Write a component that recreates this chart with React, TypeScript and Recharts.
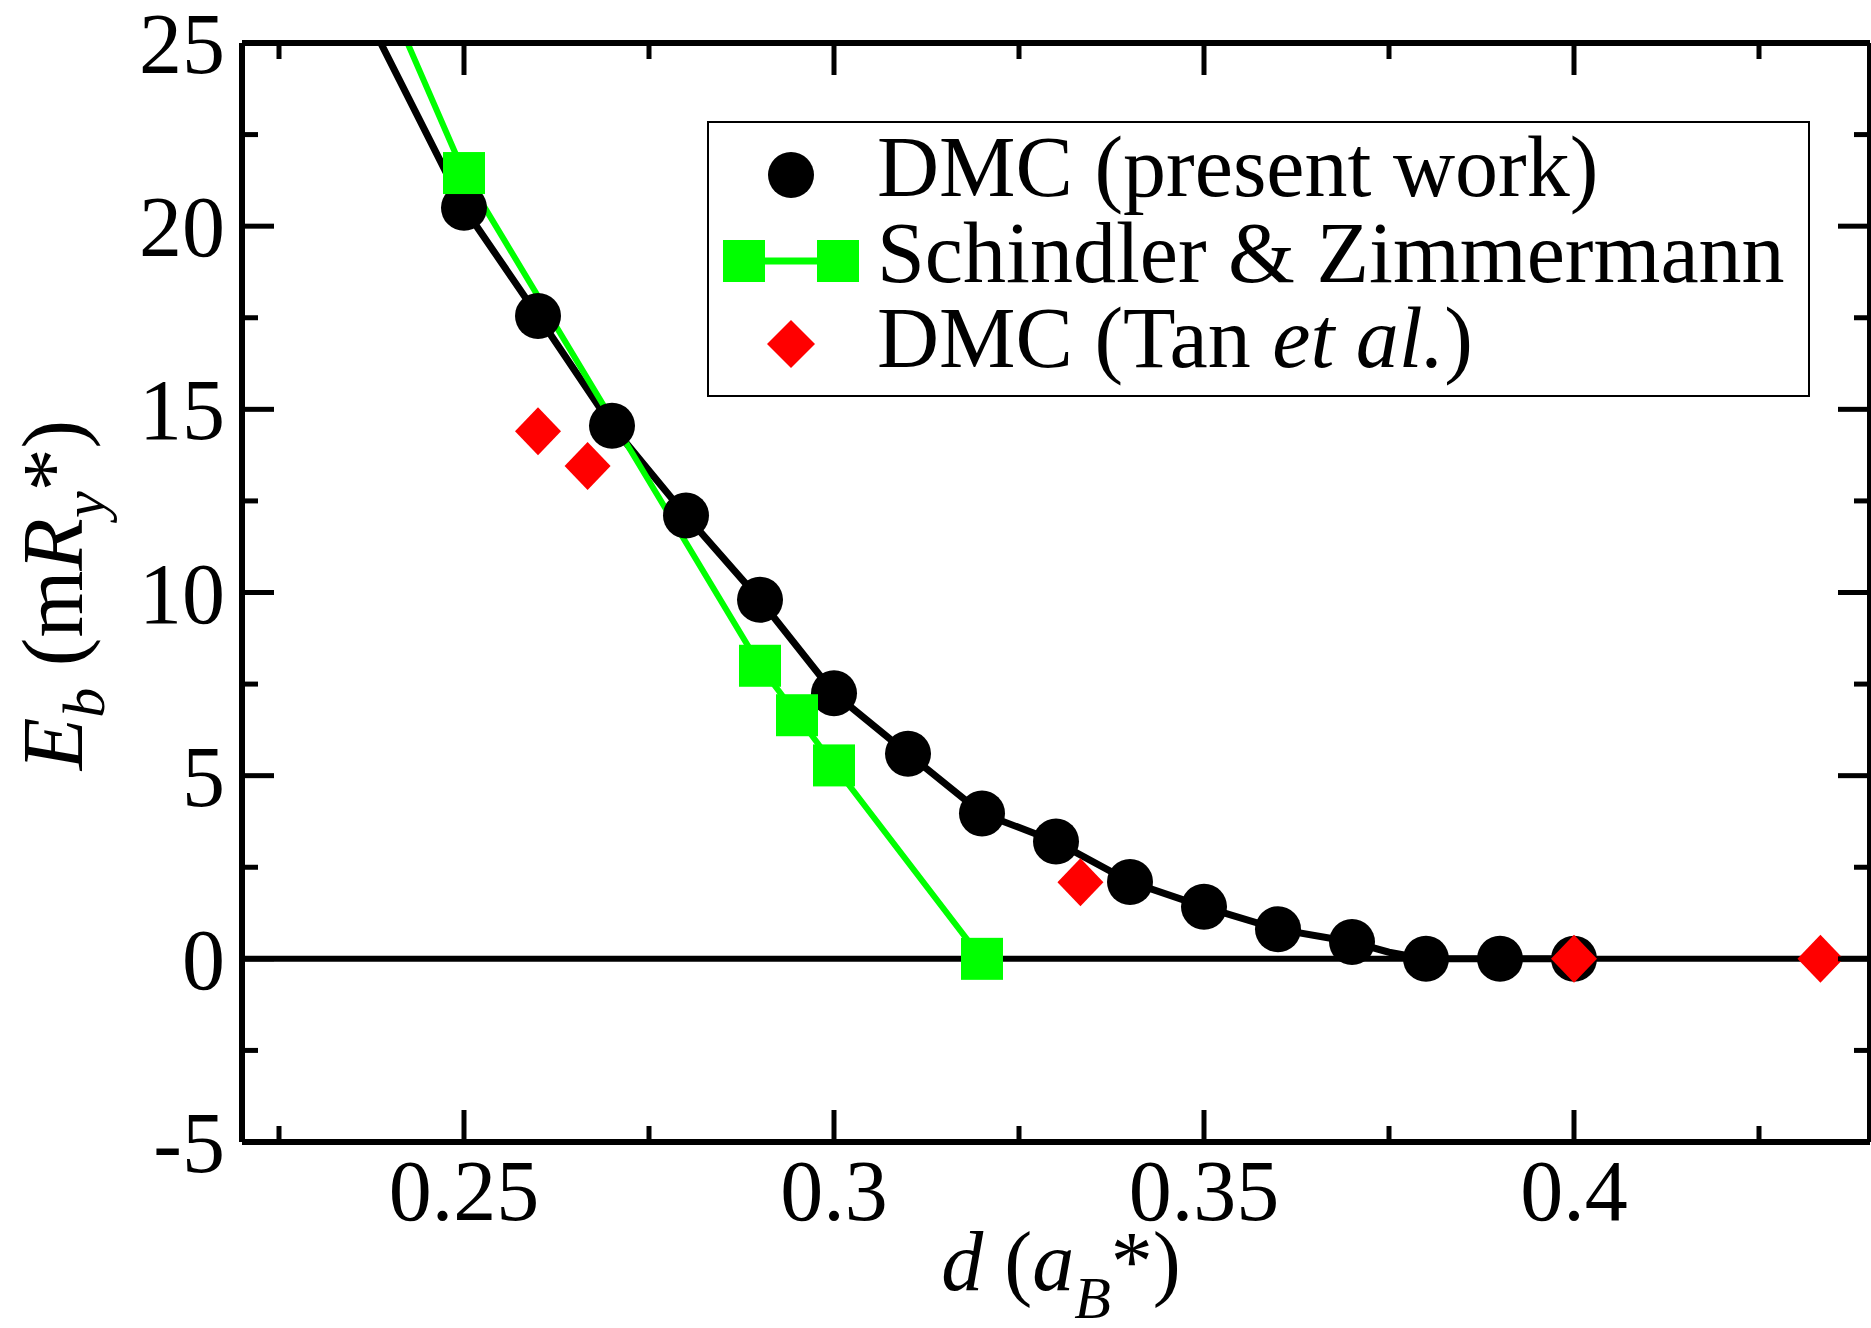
import React from 'react';
import { ComposedChart, Line, Scatter, XAxis, YAxis, ReferenceLine, Legend } from 'recharts';

const W = 1871;
const H = 1328;
const FONT = '"Liberation Serif", "Times New Roman", Times, serif';
const GREEN = '#00ff00';
const RED = '#ff0000';

// DMC (present work)
const dmcD = [0.25, 0.26, 0.27, 0.28, 0.29, 0.3, 0.31, 0.32, 0.33, 0.34, 0.35, 0.36, 0.37, 0.38, 0.39, 0.4];
const dmcE = [20.5, 17.55, 14.55, 12.1, 9.8, 7.25, 5.6, 3.97, 3.2, 2.1, 1.42, 0.81, 0.46, 0.0, 0.0, 0.0];

// fitted curve through the DMC points (runs off the top of the frame)
const fitD = [0.235, 0.25, 0.26, 0.27, 0.28, 0.29, 0.3, 0.31, 0.32, 0.33, 0.34, 0.35, 0.36, 0.37, 0.375, 0.38, 0.39, 0.4];
const fitE = [26.5, 20.5, 17.55, 14.55, 12.1, 9.8, 7.25, 5.6, 3.97, 3.2, 2.1, 1.42, 0.81, 0.46, 0.18, 0.0, 0.0, 0.0];

// Schindler & Zimmermann
const szD = [0.24, 0.25, 0.29, 0.295, 0.3, 0.32];
const szE = [26.1, 21.45, 8.0, 6.65, 5.28, 0.0];

// DMC (Tan et al.)
const tanD = [0.26, 0.2667, 0.3333, 0.4, 0.4333];
const tanE = [14.4, 13.45, 2.09, 0.0, 0.0];

const xMajor = [0.25, 0.3, 0.35, 0.4];
const xLabels = ['0.25', '0.3', '0.35', '0.4'];
const xMinor = [0.225, 0.275, 0.325, 0.375, 0.425];
const yMajor = [-5, 0, 5, 10, 15, 20, 25];
const yLabels = ['-5', '0', '5', '10', '15', '20', '25'];
const yMinor = [-2.5, 2.5, 7.5, 12.5, 17.5, 22.5];

const toRows = (xs: number[], ys: number[]) => xs.map((d, i) => ({ d, e: ys[i] }));
const dmcData = toRows(dmcD, dmcE);
const fitData = toRows(fitD, fitE);
const szData = toRows(szD, szE);
const tanData = toRows(tanD, tanE);

const xTicks = [...xMajor, ...xMinor].sort((a, b) => a - b);
const yTicks = [...yMajor, ...yMinor].sort((a, b) => a - b);

const MAJOR = 32;
const MINOR = 16;
const TW = 5;

const BottomTick = (props: any) => {
  const { x, y, payload } = props;
  const i = xMajor.indexOf(payload.value);
  const len = i >= 0 ? MAJOR : MINOR;
  return (
    <g>
      <line x1={x} x2={x} y1={y} y2={y - len} stroke="#000" strokeWidth={TW} />
      {i >= 0 && (
        <text x={x} y={y + 78} textAnchor="middle" fontSize={86} fontFamily={FONT} fill="#000">
          {xLabels[i]}
        </text>
      )}
    </g>
  );
};

const TopTick = (props: any) => {
  const { x, y, payload } = props;
  const len = xMajor.includes(payload.value) ? MAJOR : MINOR;
  return <line x1={x} x2={x} y1={y} y2={y + len} stroke="#000" strokeWidth={TW} />;
};

const LeftTick = (props: any) => {
  const { x, y, payload } = props;
  const i = yMajor.indexOf(payload.value);
  const len = i >= 0 ? MAJOR : MINOR;
  return (
    <g>
      <line x1={x} x2={x + len} y1={y} y2={y} stroke="#000" strokeWidth={TW} />
      {i >= 0 && (
        <text x={x - 17} y={y + 30} textAnchor="end" fontSize={86} fontFamily={FONT} fill="#000">
          {yLabels[i]}
        </text>
      )}
    </g>
  );
};

const RightTick = (props: any) => {
  const { x, y, payload } = props;
  const len = yMajor.includes(payload.value) ? MAJOR : MINOR;
  return <line x1={x} x2={x - len} y1={y} y2={y} stroke="#000" strokeWidth={TW} />;
};

const inFrame = (p: any) => p.payload && p.payload.e <= 25 && p.payload.e >= -5;

const CircleDot = (p: any) =>
  inFrame(p) ? <circle key={p.index} cx={p.cx} cy={p.cy} r={23} fill="#000" /> : <g key={p.index} />;

const SquareDot = (p: any) =>
  inFrame(p) ? (
    <rect key={p.index} x={p.cx - 21} y={p.cy - 21} width={42} height={42} fill={GREEN} />
  ) : (
    <g key={p.index} />
  );

const DiamondDot = (p: any) => (
  <polygon
    key={p.index}
    points={`${p.cx},${p.cy - 24} ${p.cx + 23},${p.cy} ${p.cx},${p.cy + 24} ${p.cx - 23},${p.cy}`}
    fill={RED}
  />
);

const XLabel = () => (
  <text x={1061} y={1290} textAnchor="middle" fontSize={84} fontFamily={FONT} fill="#000">
    <tspan fontStyle="italic">d</tspan>
    <tspan> (</tspan>
    <tspan fontStyle="italic">a</tspan>
    <tspan fontStyle="italic" fontSize={60} dy={28}>B</tspan>
    <tspan dy={-28}>*)</tspan>
  </text>
);

const YLabel = () => (
  <text
    x={82}
    y={595}
    transform="rotate(-90 82 595)"
    textAnchor="middle"
    fontSize={86}
    fontFamily={FONT}
    fill="#000"
  >
    <tspan fontStyle="italic">E</tspan>
    <tspan fontStyle="italic" fontSize={60} dy={22}>b</tspan>
    <tspan dy={-22}> (m</tspan>
    <tspan fontStyle="italic">R</tspan>
    <tspan fontStyle="italic" fontSize={60} dy={22}>y</tspan>
    <tspan dy={-22}>*)</tspan>
  </text>
);

const LegendBox = () => (
  <svg width={1103} height={276} style={{ display: 'block' }}>
    <rect x={1} y={1} width={1101} height={274} fill="#fff" stroke="#000" strokeWidth={2} />
    <circle cx={84} cy={54} r={23} fill="#000" />
    <line x1={37} x2={131} y1={140} y2={140} stroke={GREEN} strokeWidth={7} />
    <rect x={16} y={119} width={42} height={42} fill={GREEN} />
    <rect x={110} y={119} width={42} height={42} fill={GREEN} />
    <polygon points="84,199 108,223 84,247 60,223" fill={RED} />
    <g fontFamily={FONT} fontSize={86} fill="#000">
      <text x={170} y={75}>DMC (present work)</text>
      <text x={170} y={161}>Schindler &amp; Zimmermann</text>
      <text x={170} y={246}>
        DMC (Tan <tspan fontStyle="italic">et al.</tspan>)
      </text>
    </g>
  </svg>
);

export default function App() {
  return (
    <div style={{ position: 'absolute', left: 0, top: 0, width: W, height: H, background: '#fff' }}>
      <ComposedChart width={W} height={H} margin={{ top: 42, right: 0, bottom: 0, left: 0 }}>
        <XAxis
          dataKey="d"
          type="number"
          domain={[0.22, 0.44]}
          allowDataOverflow
          ticks={xTicks}
          interval={0}
          height={186}
          tickSize={0}
          tickMargin={0}
          tickLine={false}
          tick={<BottomTick />}
          axisLine={{ stroke: '#000', strokeWidth: 6 }}
          label={<XLabel />}
        />
        <XAxis
          xAxisId="top"
          orientation="top"
          dataKey="d"
          type="number"
          domain={[0.22, 0.44]}
          allowDataOverflow
          ticks={xTicks}
          interval={0}
          height={1}
          tickSize={0}
          tickMargin={0}
          tickLine={false}
          tick={<TopTick />}
          axisLine={{ stroke: '#000', strokeWidth: 6 }}
        />
        <YAxis
          dataKey="e"
          type="number"
          domain={[-5, 25]}
          allowDataOverflow
          ticks={yTicks}
          interval={0}
          width={242}
          tickSize={0}
          tickMargin={0}
          tickLine={false}
          tick={<LeftTick />}
          axisLine={{ stroke: '#000', strokeWidth: 6 }}
          label={<YLabel />}
        />
        <YAxis
          yAxisId="right"
          orientation="right"
          type="number"
          domain={[-5, 25]}
          allowDataOverflow
          ticks={yTicks}
          interval={0}
          width={1}
          tickSize={0}
          tickMargin={0}
          tickLine={false}
          tick={<RightTick />}
          axisLine={{ stroke: '#000', strokeWidth: 6 }}
        />
        <Line
          data={fitData}
          dataKey="e"
          type="linear"
          stroke="#000"
          strokeWidth={7}
          dot={false}
          activeDot={false}
          isAnimationActive={false}
          legendType="none"
        />
        <Scatter data={dmcData} dataKey="e" shape={<CircleDot />} isAnimationActive={false} />
        <Line
          data={szData}
          dataKey="e"
          type="linear"
          stroke={GREEN}
          strokeWidth={6}
          dot={SquareDot}
          activeDot={false}
          isAnimationActive={false}
        />
        <Scatter data={tanData} dataKey="e" shape={<DiamondDot />} isAnimationActive={false} />
        <ReferenceLine y={0} stroke="#000" strokeWidth={6} ifOverflow="hidden" />
        <Legend
          layout="horizontal"
          verticalAlign="middle"
          align="center"
          wrapperStyle={{ position: 'absolute', left: 707, top: 121, width: 1103, height: 276 }}
          content={() => <LegendBox />}
        />
      </ComposedChart>
    </div>
  );
}
